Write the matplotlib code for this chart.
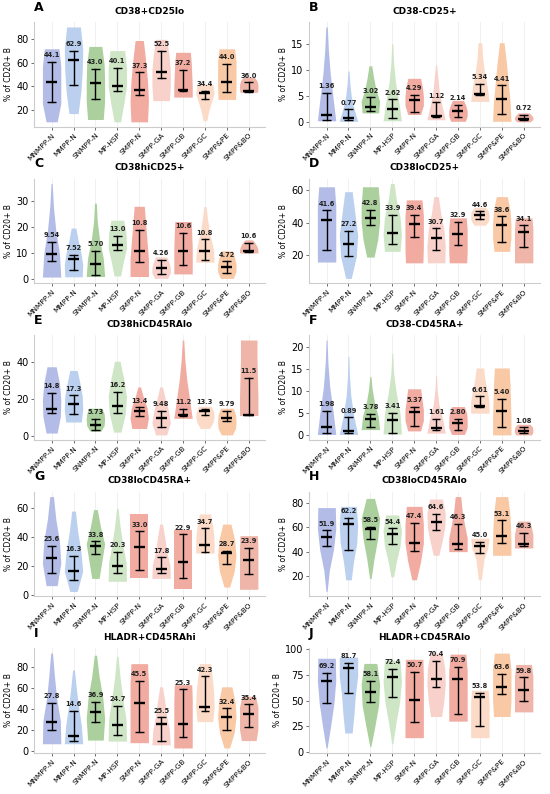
import numpy as np
import matplotlib
matplotlib.use('Agg')
import matplotlib.pyplot as plt

groups = ['MNMPP-N', 'MMPP-N', 'SNMPP-N', 'MP-HSP', 'SMPP-N',
          'SMPP-GA', 'SMPP-GB', 'SMPP-GC', 'SMPP&PE', 'SMPP&BO']
colors = ['#b3bce6', '#bad0ee', '#abd09d', '#cfe6c6', '#f2aba1',
          '#f8d1cb', '#f1aca2', '#fbdac8', '#f9c9a6', '#efb5a8']

letters = ['A', 'B', 'C', 'D', 'E', 'F', 'G', 'H', 'I', 'J']
titles = ['CD38+CD25lo', 'CD38-CD25+', 'CD38hiCD25+', 'CD38loCD25+',
          'CD38hiCD45RAlo', 'CD38-CD45RA+', 'CD38loCD45RA+', 'CD38loCD45RAlo',
          'HLADR+CD45RAhi', 'HLADR+CD45RAlo']
yticks = [[20, 40, 60, 80], [0, 5, 10, 15], [0, 10, 20, 30], [20, 40, 60],
          [0, 20, 40], [0, 5, 10, 15, 20], [0, 20, 40, 60], [20, 40, 60, 80],
          [0, 20, 40, 60, 80], [0, 25, 50, 75, 100]]

# medians as printed above each violin
median_labels = [
    ['44.1', '62.9', '43.0', '40.1', '37.3', '52.5', '37.2', '34.4', '44.0', '36.0'],
    ['1.36', '0.77', '3.02', '2.62', '4.29', '1.12', '2.14', '5.34', '4.41', '0.72'],
    ['9.54', '7.52', '5.70', '13.0', '10.8', '4.26', '10.6', '10.8', '4.72', '10.6'],
    ['41.6', '27.2', '42.8', '33.9', '39.4', '30.7', '32.9', '44.6', '38.6', '34.1'],
    ['14.8', '17.3', '5.73', '16.2', '13.4', '9.48', '11.2', '13.3', '9.79', '11.5'],
    ['1.98', '0.89', '3.78', '3.41', '5.37', '1.61', '2.80', '6.61', '5.40', '1.08'],
    ['25.6', '16.3', '33.8', '20.3', '33.0', '17.8', '22.9', '34.7', '28.7', '23.9'],
    ['51.9', '62.2', '58.5', '54.4', '47.4', '64.6', '46.3', '45.0', '53.1', '46.3'],
    ['27.8', '14.6', '36.9', '24.7', '45.5', '25.5', '25.3', '42.3', '32.4', '35.4'],
    ['69.2', '81.7', '58.1', '72.4', '50.7', '70.4', '70.9', '53.8', '63.6', '59.8'],
]
whisk_hi = [
    [61, 70, 55, 56, 52, 70, 54, 36.5, 59.5, 43.5],
    [5.6, 2.5, 4.8, 4.4, 5.3, 3.8, 3.3, 7.4, 7.1, 1.4],
    [14.3, 9.4, 10.7, 16.5, 18.8, 7.5, 17.6, 15.2, 6.8, 13.8],
    [47.5, 35, 48, 45, 45, 36.5, 40.5, 47, 44, 38.5],
    [23.5, 22, 9.3, 23.8, 15.5, 13.5, 14.5, 14.5, 13.7, 31.5],
    [5.6, 4.1, 4.8, 5.1, 6.4, 3.7, 3.8, 8.8, 8.2, 1.8],
    [34, 27, 37, 30, 44, 26, 42, 46, 30.5, 32.5],
    [57.5, 67.5, 60.5, 59, 63.5, 71, 62.5, 48, 65.5, 55.5],
    [46, 38, 47, 43, 67, 32, 58.5, 71, 40.5, 44.5],
    [77, 86.5, 69, 81, 78, 88.5, 82.5, 57.5, 76, 72.5],
]
whisk_lo = [
    [27, 41, 29, 36, 33, 47.5, 36.5, 29, 35.5, 35.5],
    [0.4, 0.5, 2.1, 0.8, 1.9, 1.0, 1.0, 5.2, 1.6, 0.4],
    [7.0, 3.5, 1.6, 11.2, 6.4, 1.9, 5.5, 7.5, 2.3, 10.4],
    [23.5, 19.5, 38.5, 27, 31, 23.5, 26.5, 42.5, 28.5, 25],
    [12.5, 12, 3.3, 12.5, 10.5, 5, 10.5, 11.5, 7.8, 11.5],
    [0.6, 0.6, 1.9, 0.6, 2.0, 1.1, 1.2, 6.5, 1.8, 0.6],
    [15, 10.5, 28.5, 15.5, 17.5, 15.5, 12, 29.5, 21.5, 14.5],
    [44.5, 41.5, 50.5, 46.5, 40.5, 58, 42, 38.5, 47, 45],
    [20, 10, 28, 15.5, 18, 9.5, 13.5, 38, 20.5, 22.5],
    [48, 57.5, 48.5, 53, 29, 63.5, 36.5, 25, 56, 49.5],
]
vmins = [
    [10, 17, 12, 10, 10, 28, 31, 11, 29, 35],
    [0.3, 0.2, 1.8, 0.3, 1.5, 0.5, 0.2, 4.0, 0.2, 0.1],
    [0.8, 0.9, 1.0, 1.2, 1.0, 0.3, 2.0, 6.5, 0.3, 10.0],
    [16, 6, 19, 22.5, 15.5, 15.5, 15.5, 38.5, 22.5, 15.5],
    [1.5, 7.5, 2.5, 2.0, 4, 0.5, 9.5, 4, 0.5, 11],
    [0.2, 0.2, 1.3, 0.3, 1.0, 0.5, 0.2, 5.0, 0.1, 0.1],
    [6.5, 2.5, 11.5, 9.5, 11.5, 11.5, 4, 29, 5.5, 4],
    [7.5, 17, 18, 19.5, 17, 37, 40, 17, 37, 43],
    [7, 7, 10.5, 9.5, 8, 6, 3, 28, 3, 10],
    [4, 18.5, 5.5, 8, 14, 34.5, 30, 14, 34.5, 39],
]
vmaxs = [
    [72, 90.5, 74, 70.5, 79, 80, 69, 42, 72, 48],
    [18.2, 9.8, 10.8, 15.0, 8.4, 11.0, 4.2, 15.2, 15.2, 1.8],
    [36.5, 19.5, 29.0, 22.5, 27.8, 8.5, 22.0, 27.7, 10.8, 15.0],
    [62, 59, 62, 64, 54, 56, 43, 49.5, 56, 43],
    [37.5, 35.5, 15, 40.5, 26.5, 26.5, 52, 16, 15, 52],
    [21.5, 17.8, 13.3, 18.5, 10.5, 13.5, 6.5, 15.2, 15.2, 2.5],
    [68, 58, 59, 60, 56, 49, 45, 56, 49, 41],
    [76, 77, 83.5, 70, 77, 83, 85, 51, 85, 65],
    [93, 77, 91, 90, 83, 61, 63, 83, 61, 52],
    [91, 92, 86, 89, 90, 96, 95, 60, 96, 85],
]
# relative violin width at 5 evenly spaced levels, bottom to top
profiles = [
    [[0.6, 1.0, 1.0, 1.0, 0.8], [0.5, 0.8, 0.95, 1.0, 0.75], [0.85, 1.0, 1.0, 0.95, 0.7],
     [0.35, 0.7, 1.0, 1.0, 0.8], [0.9, 1.0, 0.9, 0.7, 0.45], [0.9, 1.0, 1.0, 0.85, 0.6],
     [1.0, 1.0, 0.95, 0.9, 0.8], [0.2, 0.4, 0.7, 1.0, 0.85], [0.95, 1.0, 1.0, 1.0, 0.85],
     [0.95, 1.0, 1.0, 0.9, 0.6]],
    [[1.0, 0.7, 0.4, 0.2, 0.08], [1.0, 0.6, 0.3, 0.15, 0.06], [0.9, 1.0, 0.6, 0.35, 0.15],
     [1.0, 0.7, 0.35, 0.15, 0.06], [0.7, 1.0, 1.0, 0.9, 0.7], [1.0, 0.65, 0.35, 0.2, 0.06],
     [0.8, 1.0, 1.0, 0.85, 0.6], [1.0, 0.8, 0.5, 0.3, 0.2], [1.0, 0.9, 0.7, 0.5, 0.25],
     [0.7, 1.0, 1.0, 0.85, 0.6]],
    [[1.0, 0.85, 0.45, 0.2, 0.06], [0.95, 1.0, 0.8, 0.5, 0.25], [1.0, 0.85, 0.45, 0.2, 0.1],
     [0.35, 0.65, 1.0, 0.95, 0.7], [1.0, 1.0, 0.85, 0.7, 0.55], [0.7, 1.0, 1.0, 0.85, 0.6],
     [1.0, 1.0, 1.0, 0.95, 0.9], [1.0, 0.9, 0.55, 0.3, 0.12], [0.7, 1.0, 1.0, 0.85, 0.6],
     [1.0, 1.0, 0.9, 0.7, 0.4]],
    [[1.0, 1.0, 1.0, 1.0, 0.85], [0.3, 0.85, 1.0, 0.7, 0.4], [0.4, 0.8, 1.0, 1.0, 0.85],
     [0.85, 1.0, 0.85, 0.45, 0.2], [0.95, 1.0, 1.0, 1.0, 0.85], [0.95, 1.0, 0.85, 0.5, 0.25],
     [0.95, 1.0, 1.0, 1.0, 0.9], [0.6, 0.95, 1.0, 0.95, 0.6], [0.85, 1.0, 1.0, 0.9, 0.6],
     [1.0, 1.0, 1.0, 1.0, 0.9]],
    [[0.6, 0.95, 1.0, 0.85, 0.5], [0.85, 1.0, 0.95, 0.7, 0.4], [0.6, 0.95, 1.0, 0.95, 0.7],
     [0.4, 0.85, 1.0, 0.7, 0.3], [0.8, 1.0, 0.85, 0.45, 0.15], [0.6, 1.0, 0.8, 0.45, 0.15],
     [1.0, 0.7, 0.4, 0.2, 0.08], [0.5, 0.85, 1.0, 0.95, 0.7], [0.6, 0.95, 1.0, 0.95, 0.7],
     [1.0, 1.0, 0.95, 0.9, 0.9]],
    [[1.0, 0.7, 0.35, 0.15, 0.05], [1.0, 0.55, 0.25, 0.1, 0.05], [1.0, 0.85, 0.45, 0.2, 0.06],
     [1.0, 0.85, 0.45, 0.15, 0.05], [0.7, 1.0, 1.0, 0.85, 0.7], [1.0, 0.7, 0.3, 0.12, 0.05],
     [0.7, 1.0, 1.0, 0.95, 0.7], [1.0, 1.0, 0.8, 0.55, 0.4], [1.0, 1.0, 0.95, 0.9, 0.8],
     [0.85, 1.0, 1.0, 0.95, 0.7]],
    [[0.6, 1.0, 0.85, 0.45, 0.2], [0.4, 1.0, 0.8, 0.45, 0.2], [0.4, 0.7, 1.0, 0.55, 0.2],
     [1.0, 0.95, 0.6, 0.3, 0.08], [1.0, 1.0, 1.0, 1.0, 1.0], [1.0, 0.95, 0.6, 0.4, 0.15],
     [1.0, 1.0, 1.0, 1.0, 1.0], [1.0, 1.0, 0.95, 0.8, 0.6], [0.3, 0.8, 1.0, 0.85, 0.45],
     [1.0, 1.0, 1.0, 1.0, 0.95]],
    [[0.06, 0.3, 0.75, 1.0, 0.95], [0.3, 0.55, 0.9, 1.0, 0.85], [0.08, 0.4, 0.8, 1.0, 0.45],
     [0.15, 0.45, 0.85, 1.0, 0.7], [0.25, 0.7, 1.0, 1.0, 0.85], [0.3, 0.65, 0.95, 1.0, 0.7],
     [1.0, 1.0, 0.7, 0.45, 0.3], [0.15, 0.3, 0.45, 0.85, 1.0], [1.0, 1.0, 0.95, 0.85, 0.65],
     [1.0, 1.0, 1.0, 0.85, 0.65]],
    [[1.0, 0.95, 0.55, 0.3, 0.1], [1.0, 0.85, 0.55, 0.3, 0.1], [0.85, 1.0, 0.8, 0.4, 0.12],
     [1.0, 0.95, 0.6, 0.3, 0.08], [1.0, 1.0, 1.0, 1.0, 0.9], [1.0, 0.9, 0.6, 0.4, 0.15],
     [1.0, 1.0, 1.0, 1.0, 0.95], [0.85, 1.0, 0.95, 0.8, 0.6], [0.3, 0.8, 1.0, 0.9, 0.55],
     [0.8, 1.0, 1.0, 1.0, 0.75]],
    [[0.06, 0.45, 0.8, 1.0, 0.95], [0.4, 0.6, 0.75, 1.0, 1.0], [0.06, 0.5, 0.9, 1.0, 0.7],
     [0.06, 0.4, 0.8, 1.0, 0.85], [1.0, 1.0, 1.0, 1.0, 0.95], [0.6, 0.85, 1.0, 0.95, 0.65],
     [1.0, 1.0, 1.0, 1.0, 0.85], [1.0, 1.0, 1.0, 1.0, 0.9], [0.9, 1.0, 1.0, 1.0, 0.8],
     [1.0, 1.0, 1.0, 1.0, 0.85]],
]

fig, axes = plt.subplots(5, 2, figsize=(5.5, 7.94), dpi=100)
fig.subplots_adjust(left=0.062, right=0.982, top=0.972, bottom=0.052,
                    hspace=0.5, wspace=0.19)

half = 0.42
for p, ax in enumerate(axes.flat):
    for i in range(len(groups)):
        w = np.array(profiles[p][i]) * half
        ys = np.linspace(vmins[p][i], vmaxs[p][i], len(w))
        ax.fill_betweenx(ys, i - w, i + w, color=colors[i], linewidth=0, zorder=2)
        ax.plot([i, i], [whisk_lo[p][i], whisk_hi[p][i]], color='black', lw=1.0, zorder=3)
        ax.hlines([whisk_lo[p][i], whisk_hi[p][i]], i - 0.2, i + 0.2,
                  color='black', lw=1.0, zorder=3)
        ax.hlines(float(median_labels[p][i]), i - 0.25, i + 0.25, color='black',
                  lw=1.7, zorder=4)
    ax.autoscale_view()
    lo, hi = ax.get_ylim()
    for i in range(len(groups)):
        ax.text(i, whisk_hi[p][i] + 0.035 * (hi - lo), median_labels[p][i],
                ha='center', va='bottom', fontsize=4.8, fontweight='bold',
                color='#222222', zorder=5)
    ax.set_xlim(-0.8, 9.75)
    ax.set_yticks(yticks[p])
    ax.set_xticks(range(len(groups)))
    ax.set_xticklabels(groups, rotation=45, ha='right', rotation_mode='anchor',
                       fontsize=5.3)
    ax.tick_params(axis='y', labelsize=7, length=2.5, width=0.6, pad=1.5, color='#555555')
    ax.tick_params(axis='x', length=2.5, width=0.6, pad=1.5, color='#555555')
    ax.xaxis.grid(True, color='#eeeeee', lw=0.6, zorder=0)
    ax.set_axisbelow(True)
    ax.spines['top'].set_visible(False)
    ax.spines['right'].set_visible(False)
    for s in ['left', 'bottom']:
        ax.spines[s].set_color('#cccccc')
        ax.spines[s].set_linewidth(0.8)
    ax.set_ylabel('% of CD20+ B', fontsize=5.5, labelpad=2)
    ax.set_title(titles[p], fontsize=6.5, fontweight='bold', pad=6)
    ax.text(0.0, 1.08, letters[p], transform=ax.transAxes, fontsize=9,
            fontweight='bold', ha='left', va='bottom')

fig.savefig('out.png', dpi=100)
